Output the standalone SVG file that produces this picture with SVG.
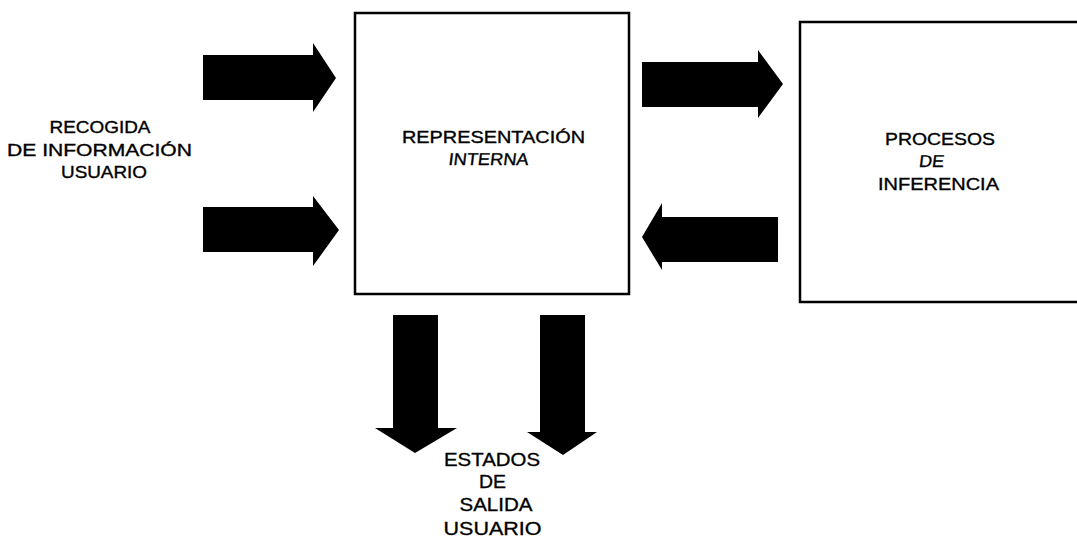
<svg xmlns="http://www.w3.org/2000/svg" width="1077" height="538" viewBox="0 0 1077 538">
<style>
.bg{fill:#ffffff}
.box{fill:none;stroke:#000;stroke-width:2.5}
.arrow{fill:#000;stroke:none}
text{font-family:"Liberation Sans",Arial,sans-serif;font-size:17px;fill:#000;stroke:#000;stroke-width:0.35;text-anchor:middle}
.big{font-size:19px}
</style>
<rect class="bg" x="0" y="0" width="1077" height="538"/>
<g id="recogida">
<text x="100" y="133" textLength="101" lengthAdjust="spacingAndGlyphs">RECOGIDA</text>
<text x="99.5" y="156" textLength="185" lengthAdjust="spacingAndGlyphs">DE INFORMACIÓN</text>
<text x="104" y="178" textLength="86" lengthAdjust="spacingAndGlyphs">USUARIO</text>
</g>
<g id="representacion">
<rect class="box" x="355" y="13" width="274" height="281"/>
<text x="493.5" y="143" textLength="183" lengthAdjust="spacingAndGlyphs">REPRESENTACIÓN</text>
<text transform="translate(488,165) skewX(-7)" x="0" y="0" textLength="80" lengthAdjust="spacingAndGlyphs">INTERNA</text>
</g>
<g id="procesos">
<path class="box" d="M1077 22 H800 V302 H1077"/>
<text x="940" y="145" textLength="110" lengthAdjust="spacingAndGlyphs">PROCESOS</text>
<text transform="translate(931,167) skewX(-7)" x="0" y="0" textLength="25" lengthAdjust="spacingAndGlyphs">DE</text>
<text x="938.5" y="190" textLength="121" lengthAdjust="spacingAndGlyphs">INFERENCIA</text>
</g>
<g id="estados">
<text class="big" x="492" y="466" textLength="96" lengthAdjust="spacingAndGlyphs">ESTADOS</text>
<text class="big" x="492.5" y="488" textLength="27" lengthAdjust="spacingAndGlyphs">DE</text>
<text class="big" x="496" y="511" textLength="73" lengthAdjust="spacingAndGlyphs">SALIDA</text>
<text class="big" x="492.5" y="535" textLength="98" lengthAdjust="spacingAndGlyphs">USUARIO</text>
</g>
<g id="connectors">
<polygon class="arrow" points="203,55 313,55 313,43 336,78 313,112 313,100 203,100"/>
<polygon class="arrow" points="203,207 313,207 313,196 339,230 313,266 313,252 203,252"/>
<polygon class="arrow" points="642,62 758,62 758,50 783,84 758,118 758,107 642,107"/>
<polygon class="arrow" points="778,217 662,217 662,203 642,237 662,270 662,262 778,262"/>
<polygon class="arrow" points="393,315 438,315 438,428 457,428 415,453 375,428 393,428"/>
<polygon class="arrow" points="540,315 585,315 585,432 597,432 563,455 527,432 540,432"/>
</g>
</svg>
